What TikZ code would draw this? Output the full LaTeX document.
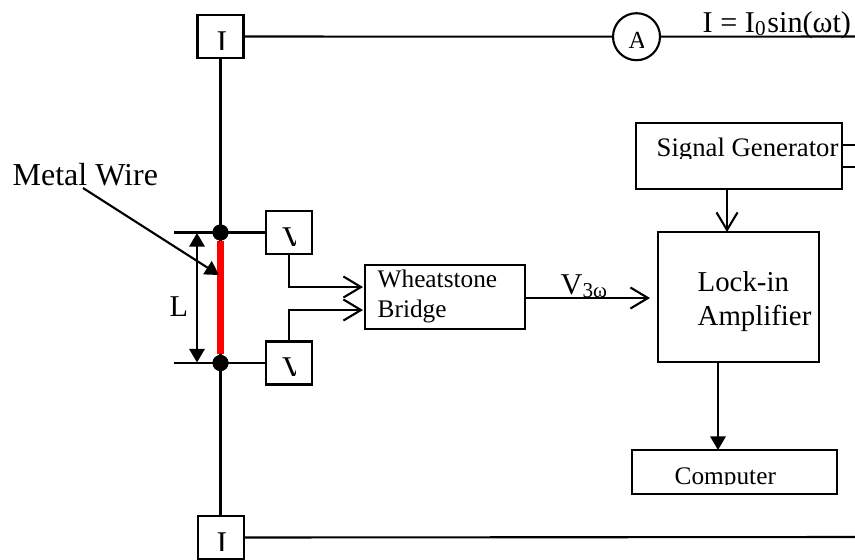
\documentclass[tikz,border=0pt]{standalone}
\usepackage{fontspec}
\setmainfont{Liberation Serif}
\usetikzlibrary{arrows.meta}
\tikzset{
  wire/.style={line width=0.6pt},
  box/.style={draw,line width=0.6pt,rectangle,inner sep=0pt},
  meter/.style={box,minimum width=0.46cm,minimum height=0.43cm},
  blob/.style={circle,fill=black,inner sep=0pt,minimum size=0.16cm},
  txt/.style={inner sep=0pt,anchor=base west},
  small/.style={txt,font=\fontsize{7.2}{8}\selectfont},
  big/.style={txt,font=\fontsize{8.2}{10}\selectfont},
  glyph/.style={inner sep=0pt,anchor=base,font=\fontsize{9}{10}\selectfont},
  open/.style={-{Straight Barb[length=5pt,width=6pt]}},
  solid tip/.style={-{Triangle[length=3.9pt,width=4.4pt]}},
  both tips/.style={{Triangle[length=3.9pt,width=4.4pt]}-{Triangle[length=3.9pt,width=4.4pt]}}
}
% text cut off by a window: style, name, corner, corner, place, text
\newcommand{\cliplabel}[6]{\begin{scope}\clip #3 rectangle #4;\node[#1] (#2) at #5 {#6};\end{scope}}
\begin{document}
\begin{tikzpicture}
        \useasboundingbox (0,0) rectangle (8.55,5.59);
        \node[meter] (i1) at (2.205, 5.225) {};
        \node[meter] (i2) at (2.21, 0.215) {};
        \node[meter] (v1) at (2.89, 3.265) {};
        \node[meter] (v2) at (2.89, 1.96) {};
        \node[box,circle,minimum width=0.47cm] (amp) at (6.365, 5.223) {};
        \node[box,minimum width=2.06cm,minimum height=0.66cm] (siggen) at (7.39, 4.03) {};
        \node[box,minimum width=1.61cm,minimum height=1.30cm] (lockin) at (7.385, 2.62) {};
        \node[box,minimum width=2.05cm,minimum height=0.44cm] (computer) at (7.345, 0.87) {};
        \node[box,minimum width=1.60cm,minimum height=0.64cm] (bridge) at (4.45, 2.62) {};
        \node[blob] (d1) at (2.205, 3.265) {};
        \node[blob] (d2) at (2.205, 1.96) {};
        % labels
        \node[txt,font=\fontsize{8.6}{10}\selectfont] (source) at (7.02, 5.27) {I = I\textsubscript{0}sin(ωt)};
        \node[txt,font=\fontsize{9.1}{10}\selectfont] (wirelabel) at (0.12, 3.74) {Metal Wire};
        \node[txt,font=\fontsize{8.6}{10}\selectfont] (length) at (1.69, 2.43) {L};
        \node[small] (bridgelabel1) at (3.77, 2.72) {Wheatstone};
        \node[small] (bridgelabel2) at (3.77, 2.42) {Bridge};
        \node[big] (locklabel1) at (6.97, 2.68) {Lock-in};
        \node[big] (locklabel2) at (6.97, 2.34) {Amplifier};
        \node[txt,font=\fontsize{8.6}{10}\selectfont] (vlabel) at (5.60, 2.65) {V\textsubscript{3ω}};
        % clipped labels
        \cliplabel{small,font=\fontsize{7.6}{8}\selectfont}{siggenlabel}{(6.40, 4.01)}{(8.38, 4.30)}{(6.56, 4.025)}{Signal Generator}
        \cliplabel{small}{computerlabel}{(6.40, 0.745)}{(8.30, 1.05)}{(6.74, 0.75)}{Computer}
        \cliplabel{glyph}{i1label}{(2.10, 5.10)}{(2.32, 5.40)}{(2.22, 5.07)}{I}
        \cliplabel{glyph}{i2label}{(2.10, 0.09)}{(2.32, 0.40)}{(2.22, 0.06)}{I}
        \cliplabel{glyph}{v1label}{(2.80, 3.14)}{(2.955, 3.40)}{(2.935, 3.11)}{V}
        \cliplabel{glyph}{v2label}{(2.80, 1.835)}{(2.955, 2.10)}{(2.935, 1.805)}{V}
        \cliplabel{glyph,font=\fontsize{7}{8}\selectfont}{amplabel}{(6.25, 5.11)}{(6.43, 5.35)}{(6.375, 5.11)}{A}
        % free ends
        \coordinate (r1) at (8.55, 5.225);
        \coordinate (r2) at (8.55, 0.22);
        \coordinate (s1) at (8.55, 4.14);
        \coordinate (s2) at (8.55, 3.92);
        \coordinate (stub1) at (8.42, 4.14);
        \coordinate (stub2) at (8.42, 3.92);
        \coordinate (l1) at (1.74, 3.265);
        \coordinate (l2) at (1.74, 1.96);
        \coordinate (m1) at (1.97, 3.26);
        \coordinate (m2) at (1.97, 1.965);
        \coordinate (in1) at (3.63, 2.72);
        \coordinate (in2) at (3.63, 2.49);
        \coordinate (wirestart) at (0.83, 3.71);
        \coordinate (wireend) at (2.19, 2.84);
        \coordinate (genout) at (7.27, 3.70);
        \coordinate (lockin1) at (7.27, 3.27);
        \coordinate (lockout) at (7.18, 1.97);
        \coordinate (compin) at (7.18, 1.09);
        \coordinate (bridgeout) at (5.25, 2.61);
        \coordinate (lockin2) at (6.50, 2.61);
        \draw[wire] (i1) -- (amp);
        \draw[wire] (amp) -- (r1);
        \draw[wire] (i2) -- (r2);
        \draw[wire] (i1) -- (i1 |- i2.north);
        \draw[wire] (l1) -- (v1);
        \draw[wire] (l2) -- (v2);
        \draw[wire] (stub1) -- (s1);
        \draw[wire] (stub2) -- (s2);
        \draw[red,line width=1.8pt] (d1) -- (d2);
        \node[blob] (d1top) at (d1) {};
        \node[blob] (d2top) at (d2) {};
        \draw[wire,solid tip] (wirestart) -- (wireend);
        \draw[wire,both tips] (m1) -- (m2);
        \draw[wire,open] (v1.south) |- (in1);
        \draw[wire,open] (v2.north) |- (in2);
        \draw[wire,open] (bridgeout) -- (lockin2);
        \draw[wire,open] (genout) -- (lockin1);
        \draw[wire,solid tip] (lockout) -- (compin);
\end{tikzpicture}
\end{document}
